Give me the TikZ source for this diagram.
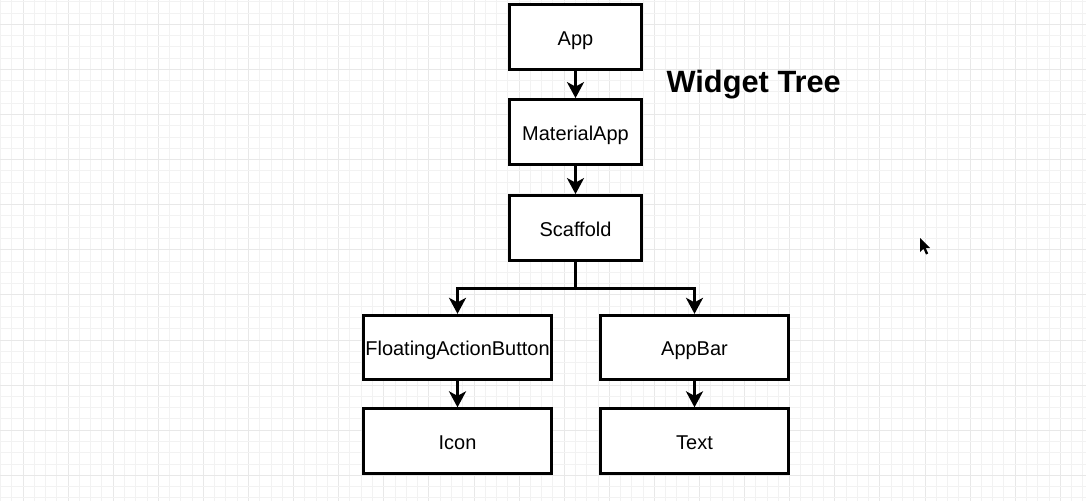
\documentclass[tikz,border=0pt]{standalone}
\usepackage{fontspec}
\setmainfont{Liberation Sans}
\usetikzlibrary{arrows.meta}
\begin{document}
\begin{tikzpicture}[x=0.025cm, y=-0.025cm]
		\tikzstyle{Widget} = [rectangle, minimum width=132*0.025cm, minimum height=65*0.025cm, text centered, draw=black, fill=white, line width=2.8*0.025cm, font=\fontsize{14.2}{16}\selectfont, inner sep=0pt, text height=16.6*0.025cm, text depth=0pt]
		\tikzstyle{WideWidget} = [Widget, minimum width=188*0.025cm, minimum height=64.5*0.025cm]
		\tikzstyle{arrow} = [line width=3*0.025cm, -{Stealth[length=16*0.025cm, width=17*0.025cm, inset=4.5*0.025cm]}]
		\tikzstyle{minorline} = [line width=0.025cm, black!5]
		\tikzstyle{majorline} = [line width=0.025cm, black!9]
		
		\useasboundingbox (0,0) rectangle (1086,501);
		\fill[white] (0,0) rectangle (1086,501);
		% grid paper
		\foreach \i in {0,...,96} {
			\pgfmathsetmacro{\gx}{0.45+11.275*\i}
			\pgfmathtruncatemacro{\gm}{mod(\i,4)}
			\ifnum\gm=2 \draw[majorline] (\gx,0) -- (\gx,501); \else \draw[minorline] (\gx,0) -- (\gx,501); \fi
		}
		\foreach \j in {0,...,44} {
			\pgfmathsetmacro{\gy}{1.75+11.275*\j}
			\pgfmathtruncatemacro{\gm}{mod(\j,4)}
			\ifnum\gm=2 \draw[majorline] (0,\gy) -- (1086,\gy); \else \draw[minorline] (0,\gy) -- (1086,\gy); \fi
		}
		
		\node (app) [Widget] at (575.5,37) {App};
		\node (materialapp) [Widget] at (575.5,132) {MaterialApp};
		\node (scaffold) [Widget] at (575.5,228) {Scaffold};
		\node (fab) [WideWidget] at (457.5,347.5) {FloatingActionButton};
		\node (appbar) [WideWidget] at (694.5,347.5) {AppBar};
		\node (icon) [WideWidget] at (457.5,441) {Icon};
		\node (text) [WideWidget] at (694.5,441) {Text};
		\node (title) [anchor=base, font=\fontsize{21.9}{24}\selectfont\bfseries] at (753.7,92.7) {Widget Tree};
		\coordinate (split) at (575.5,288);
		
		\draw [arrow] (app) -- (materialapp);
		\draw [arrow] (materialapp) -- (scaffold);
		\draw [line width=3*0.025cm] (scaffold) -- (split);
		\draw [arrow] (split) -| (fab);
		\draw [arrow] (split) -| (appbar);
		\draw [arrow] (fab) -- (icon);
		\draw [arrow] (appbar) -- (text);
		
		% mouse pointer
		\fill[black] (920,238) -- (920,252) -- (923.5,248.8) -- (926,254.5) -- (928.2,253.5) -- (925.7,248) -- (930,248) -- cycle;
		\end{tikzpicture}
\end{document}
